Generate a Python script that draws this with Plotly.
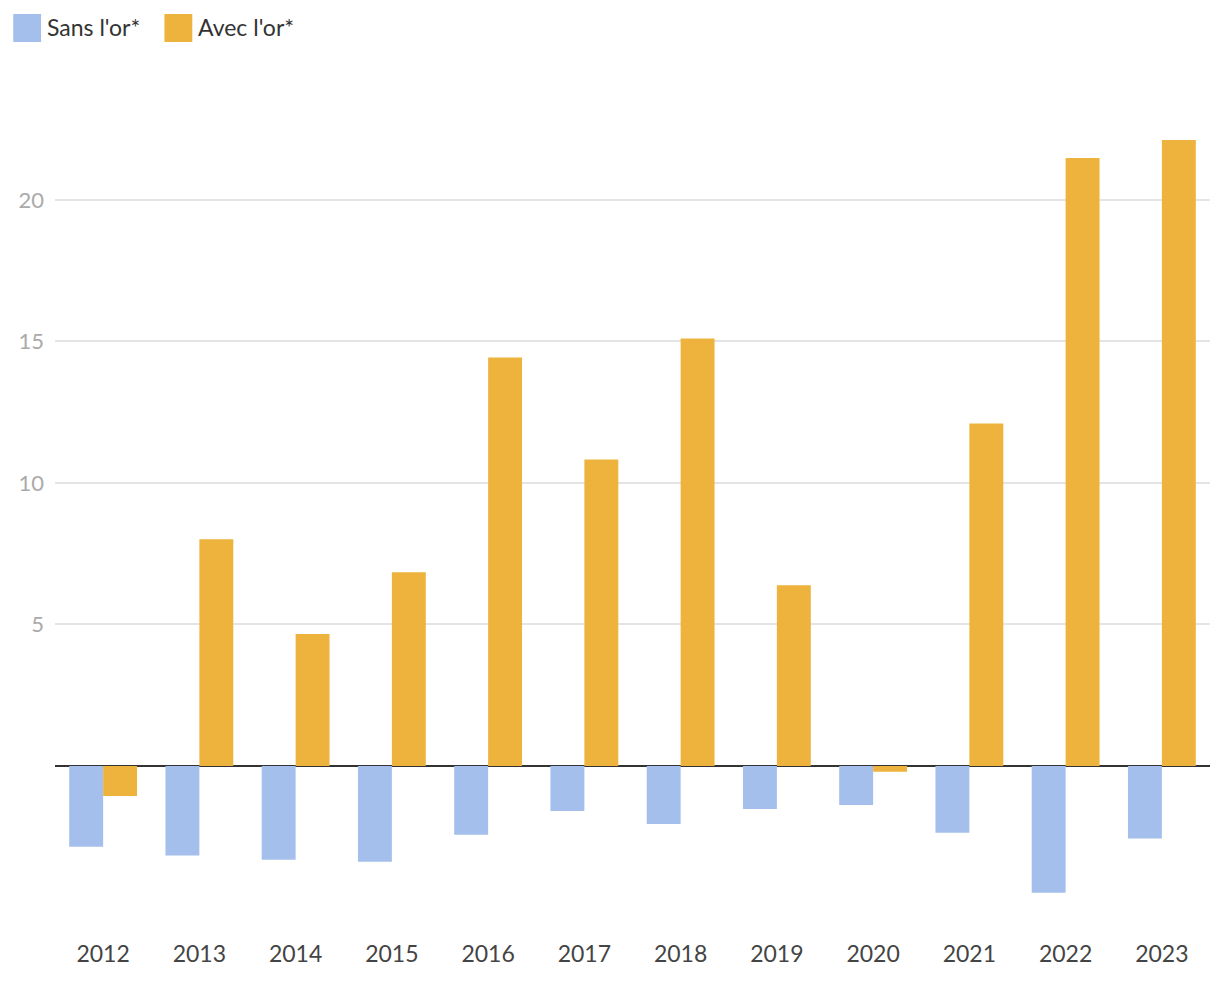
import plotly.graph_objects as go

years = ["2012", "2013", "2014", "2015", "2016", "2017", "2018", "2019", "2020", "2021", "2022", "2023"]
sans_or = [-2.86, -3.17, -3.32, -3.39, -2.43, -1.59, -2.05, -1.52, -1.38, -2.36, -4.48, -2.57]
avec_or = [-1.06, 8.01, 4.66, 6.84, 14.43, 10.83, 15.10, 6.38, -0.21, 12.10, 21.48, 22.12]
y_ticks = [5, 10, 15, 20]
series_names = ["Sans l'or*", "Avec l'or*"]

BLUE = "#a4bfec"
ORANGE = "#eeb33d"
FONT = "Lato"

OFFX, OFFY = 11, 8  # page offset compensation
W, H = 1212, 986 - OFFY
ML, MR, MT, MB = 52 - OFFX, 10, 70 - OFFY, 54
pw, ph = W - ML - MR, H - MT - MB

def px_x(px):
    return (px - OFFX - ML) / pw

def px_y(py):
    return (H - MB - (py - OFFY)) / ph

fig = go.Figure()
fig.add_trace(go.Bar(x=years, y=sans_or, name=series_names[0], marker_color=BLUE,
                     marker_line_width=0, showlegend=False))
fig.add_trace(go.Bar(x=years, y=avec_or, name=series_names[1], marker_color=ORANGE,
                     marker_line_width=0, showlegend=False))

# custom legend
legend_items = [(10, series_names[0], BLUE), (162, series_names[1], ORANGE)]
for x0, label, col in legend_items:
    fig.add_shape(type="rect", xref="paper", yref="paper",
                  x0=px_x(x0), x1=px_x(x0 + 28), y0=px_y(42), y1=px_y(14),
                  fillcolor=col, line_width=0)
    fig.add_annotation(xref="paper", yref="paper", x=px_x(x0 + 32), y=px_y(27),
                       text=label, showarrow=False, xanchor="left", yanchor="middle",
                       font=dict(family=FONT, size=23, color="#333333"))

fig.update_layout(
    width=W, height=H,
    margin=dict(l=ML, r=MR, t=MT, b=MB),
    paper_bgcolor="white", plot_bgcolor="white",
    barmode="group", bargap=0.295, bargroupgap=0,
    showlegend=False,
    font=dict(family=FONT),
)
fig.update_xaxes(
    type="category", showgrid=False, showline=False, ticks="",
    tickfont=dict(family=FONT, size=23, color="#444444"),
    ticklabelstandoff=6,
)
fig.update_yaxes(
    range=[-5.87, 24.59], tickvals=y_ticks, ticktext=[str(v) for v in y_ticks],
    showgrid=True, gridcolor="#e4e4e4", gridwidth=2,
    zeroline=True, zerolinecolor="#333333", zerolinewidth=2,
    showline=False, ticks="",
    tickfont=dict(family=FONT, size=22, color="#aaaaaa"),
    ticklabelstandoff=10,
)

fig.write_html("out.html")
